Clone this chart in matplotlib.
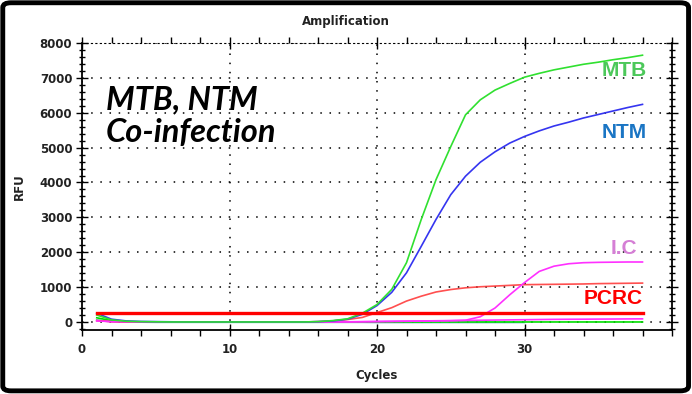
import matplotlib
matplotlib.use("Agg")
import matplotlib.pyplot as plt
from matplotlib.patches import FancyBboxPatch
from matplotlib.ticker import MultipleLocator, FixedLocator

# cycle numbers and RFU readings
cycles = list(range(1, 39))

mtb = [200, 60, 20, 10, 5, 0, 0, 0, 0, 0, 0, 0, 0, 0, 0, 10, 40, 90, 250, 500,
       935, 1700, 2940, 4080, 5030, 5940, 6370, 6650, 6840, 7020, 7130, 7230,
       7310, 7390, 7450, 7520, 7580, 7650]
ntm = [250, 80, 30, 15, 10, 5, 0, 0, 0, 0, 0, 0, 0, 0, 0, 10, 30, 80, 220, 470,
       850, 1410, 2170, 2940, 3650, 4180, 4580, 4880, 5130, 5320, 5480, 5620,
       5730, 5850, 5950, 6050, 6150, 6240]
ic = [30, 10, 5, 0, 0, 0, 0, 0, 0, 0, 0, 0, 0, 0, 0, 0, 0, 0, 5, 10,
      15, 20, 25, 30, 35, 50, 150, 400, 780, 1130, 1450, 1600,
      1670, 1700, 1710, 1715, 1720, 1720]
pcrc = [40, 10, 0, 0, 0, 0, 0, 0, 0, 0, 0, 0, 0, 0, 0, 10, 30, 70, 130, 270,
        410, 600, 740, 860, 930, 980, 1010, 1030, 1050, 1070, 1075, 1080,
        1085, 1090, 1100, 1105, 1110, 1115]
threshold = [270] * 38
base_green = [120, 40, 10, 0, 0, 0, 0, 0, 0, 0, 0, 0, 0, 0, 0, 0, 0, 0, 0, 0,
              0, 0, 0, 0, 0, 0, 0, 0, 0, 0, 0, 0, 0, 0, 0, 0, 0, 0]
base_pink = [40, 10, 0, 0, 0, 0, 0, 0, 0, 0, 0, 0, 0, 0, 0, 0, 0, 5, 10, 15,
             20, 25, 30, 35, 40, 45, 50, 55, 60, 65, 70, 75, 78, 80, 83, 85, 88, 90]
base_teal = [60, 20, 0, -5, -10, -10, -10, -10, -10, -10, -10, -10, -10, -10, -10,
             -10, -10, -10, -10, -15, -15, -15, -15, -15, -15, -15, -15, -15, -15, -15]

x_ticks = [0, 10, 20, 30]
labels = ["MTB", "NTM", "I.C", "PCRC"]
label_colors = ["#4cc85a", "#1a75c4", "#d57fd5", "#ff0000"]

W, H = 692, 394
fig = plt.figure(figsize=(W / 100, H / 100), dpi=100)
ax = fig.add_axes([82 / W, 1 - 330 / H, 590 / W, 287 / H])

ax.plot(cycles[:len(base_teal)], base_teal, color="#30a0a0", lw=1.2, alpha=0.7)
ax.plot(cycles, base_green, color="#00dd00", lw=1.2)
ax.plot(cycles, base_pink, color="#ff30ff", lw=1.2)
ax.plot(cycles, pcrc, color="#ff3030", lw=1.2, alpha=0.85)
ax.plot(cycles, ic, color="#ff30ff", lw=1.2)
ax.plot(cycles, ntm, color="#3535f0", lw=1.2)
ax.plot(cycles, mtb, color="#30e030", lw=1.2)
ax.plot(cycles, threshold, color="#ff0000", lw=2.4)

ax.set_xlim(0, 40)
ax.set_ylim(-230, 8000)
ax.xaxis.set_major_locator(FixedLocator(x_ticks))
ax.xaxis.set_minor_locator(MultipleLocator(2))
ax.yaxis.set_major_locator(MultipleLocator(1000))
ax.yaxis.set_minor_locator(MultipleLocator(200))

ax.grid(True, which="major", color="black", linestyle=(0, (1, 5)), lw=1.1)
ax.tick_params(axis="x", which="major", direction="inout", length=9, width=1,
               labelsize=8.5, pad=5, top=True)
ax.tick_params(axis="x", which="minor", direction="out", length=4, width=1, top=True)
ax.tick_params(axis="y", which="both", direction="inout", width=1, labelsize=8.5,
               right=True, pad=3)
ax.tick_params(axis="y", which="major", length=8)
ax.tick_params(axis="y", which="minor", length=5)
for lab in ax.get_xticklabels() + ax.get_yticklabels():
    lab.set_fontfamily("DejaVu Sans")
    lab.set_fontweight("bold")
    lab.set_color("#222222")
ax.spines["top"].set_linestyle((0, (1, 3)))
ax.spines["top"].set_linewidth(0.8)
for side in ["left", "right", "bottom"]:
    ax.spines[side].set_linewidth(1.3)

ax.set_xlabel("Cycles", fontsize=8.5, fontweight="bold", family="DejaVu Sans",
              labelpad=9, color="#222222")
ax.set_ylabel("RFU", fontsize=8.5, fontweight="bold", family="DejaVu Sans",
              labelpad=10, color="#222222")
fig.text(0.5, 1 - 22 / H, "Amplification", ha="center", va="center", fontsize=8.5,
         fontweight="bold", family="DejaVu Sans", color="#222222")

# curve labels
label_pos = [(647, 70), (647, 132), (637, 249), (643, 299)]
for text, col, (px, py) in zip(labels, label_colors, label_pos):
    fig.text(px / W, 1 - py / H, text, ha="right", va="center", color=col,
             fontsize=15, fontweight="bold", family="Liberation Sans")

fig.text(106 / W, 1 - 100 / H, "MTB, NTM", ha="left", va="center", fontsize=23.5,
         fontstyle="italic", fontweight="bold", family="Lato")
fig.text(106 / W, 1 - 133 / H, "Co-infection", ha="left", va="center", fontsize=23.5,
         fontstyle="italic", fontweight="bold", family="Lato")

frame = FancyBboxPatch((0.004, 0.008), 0.991, 0.985,
                       boxstyle="round,pad=0,rounding_size=0.012",
                       transform=fig.transFigure, lw=3.5, ec="black", fc="none")
fig.patches.append(frame)

fig.savefig("out.png", dpi=100)
